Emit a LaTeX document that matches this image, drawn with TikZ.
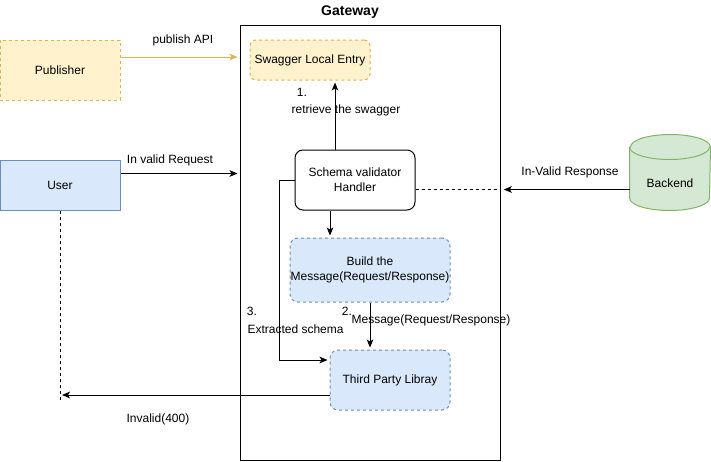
\documentclass[tikz,border=0pt]{standalone}
\usepackage{fontspec}
\setmainfont{Liberation Sans}
\usetikzlibrary{arrows.meta,positioning}
\definecolor{yelfill}{HTML}{FFF2CC}
\definecolor{yelline}{HTML}{D6B656}
\definecolor{bluefill}{HTML}{DAE8FC}
\definecolor{blueline}{HTML}{6C8EBF}
\definecolor{greenfill}{HTML}{D5E8D4}
\definecolor{greenline}{HTML}{82B366}

\begin{document}
\begin{tikzpicture}[x=0.75pt,y=-0.75pt,line width=0.75pt,
 font=\fontsize{9}{11}\selectfont,
 box/.style={draw,align=center,inner sep=0pt},
 dashline/.style={dash pattern=on 2.25pt off 2.25pt},
 yelbox/.style={box,draw=yelline,fill=yelfill,dashline},
 bluebox/.style={box,draw=blueline,fill=bluefill},
 lbl/.style={inner sep=0pt},
 dbend/.style={x radius=30pt,y radius=9.375pt},
 conn/.style={-{Stealth[length=6pt,width=5pt,inset=1.5pt]},shorten >=1.5pt}]

\useasboundingbox (0,0) rectangle (711,461);

\node[draw,minimum width=195pt,minimum height=326.25pt] (gateway) at (370,242.5) {};
\node[font=\bfseries\fontsize{10.5}{12}\selectfont] (gwtitle) at (350,12) {Gateway};

\node[yelbox,minimum width=90pt,minimum height=45pt] (pub) at (60,70) {Publisher};
\node[yelbox,rounded corners=4.5pt,minimum width=90pt,minimum height=30pt]
 (swagger) at (310,60) {Swagger Local Entry};
\node[box,rounded corners=6pt,minimum width=90pt,minimum height=45pt]
 (schema) at (355,180) {Schema validator\\Handler};
\node[bluebox,minimum width=90pt,minimum height=37.5pt] (user) at (60,185.5) {User};
\node[bluebox,dashline,rounded corners=6pt,minimum width=120pt,minimum height=48pt]
 (build) at (370,270) {Build the\\Message(Request/Response)};
\node[bluebox,dashline,rounded corners=6pt,minimum width=90pt,minimum height=45pt]
 (third) at (390,380) {Third Party Libray};

\node[minimum width=60pt,minimum height=56.25pt,inner sep=0pt] (backend) at (670,172.5) {};
\draw[greenline,fill=greenfill]
 ([yshift=-9.375pt]backend.north west) -- ([yshift=9.375pt]backend.south west)
 arc[dbend,start angle=180,end angle=360]
 -- ([yshift=-9.375pt]backend.north east)
 arc[dbend,start angle=0,end angle=180] -- cycle;
\draw[greenline] ([yshift=-9.375pt]backend.north west) arc[dbend,start angle=180,end angle=360];
\node[lbl] (backendtxt) at (670,183) {Backend};

\coordinate (pubout) at ([yshift=9.75pt]pub.east);
\draw[conn,draw=yelline,yelline] (pubout) -- (pubout -| gateway.west);
\coordinate (userout) at ([yshift=9pt]user.east);
\draw[conn] (userout) -- (userout -| gateway.west);
\coordinate (schematop) at ([xshift=-15pt]schema.north);
\draw[conn] (schematop) -- (schematop |- swagger.south);
\coordinate (schemaout) at ([yshift=-6.75pt]schema.east);
\draw[dashline] (schemaout) -- (schemaout -| gateway.east);
\coordinate (backout) at ([xshift=-30pt,yshift=-12.75pt]backend.center);
\draw[conn,shorten >=2.5pt] (backout) -- (backout -| gateway.east);
\coordinate (schemabot) at ([xshift=-18.75pt]schema.south);
\draw[conn] (schemabot) -- (schemabot |- build.north);
\draw[conn] (build.south) -- (build.south |- third.north);
\coordinate (thirdin) at ([yshift=15pt]third.west);
\draw[conn] (schema.west) -- ++(-15,0) |- (thirdin);
\coordinate (thirdout) at ([yshift=-11.25pt]third.west);
\draw[conn] (thirdout) -- (thirdout -| user.south);
\draw[dashline,line width=0.6pt] (user.south) -- ++(0,190);

\node[lbl] (lblpub) at (183,40) {publish API};
\node[lbl] (lbluser) at (170,160) {In valid Request};
\node[lbl] (lblinv) at (158,419) {Invalid(400)};
\node[lbl] (lblback) at (570,172) {In-Valid Response};
\node[lbl] (lblone) at (302,92) {1.};
\node[lbl] (lblret) at (346,110) {retrieve the swagger};
\node[lbl] (lbltwo) at (347,311) {2.};
\node[lbl] (lblmsg) at (431,320) {Message(Request/Response)};
\node[lbl] (lblthree) at (252,311) {3.};
\node[lbl,anchor=west] (lblext) at (247,329) {Extracted schema};
\end{tikzpicture}
\end{document}
